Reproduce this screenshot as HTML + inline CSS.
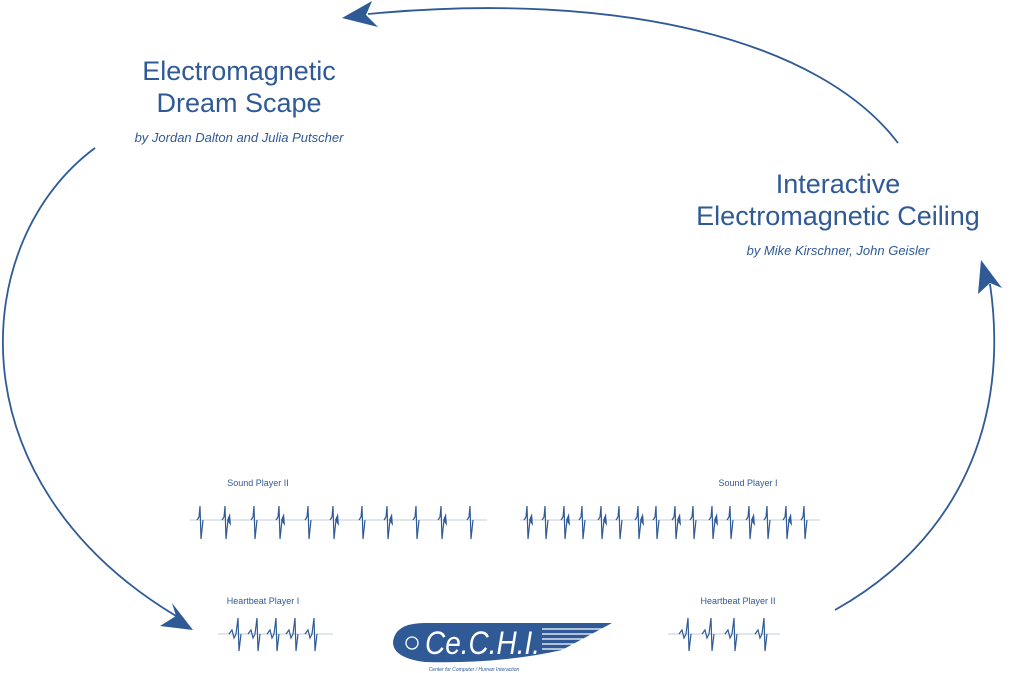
<!DOCTYPE html>
<html><head><meta charset="utf-8"><style>
body{margin:0;background:#fff;}
svg{display:block}
text{font-family:"Liberation Sans",sans-serif;fill:#2f5a96}
</style></head><body>
<svg width="1024" height="673" viewBox="0 0 1024 673" xmlns="http://www.w3.org/2000/svg">
<g fill="none" stroke="#2f5a96" stroke-width="1.8">
<path d="M898,143 C820,40 620,-10 368,14"/>
<path d="M95,148 C-30,240 -50,480 176,616"/>
<path d="M835,610 C960,540 1010,420 990,284"/>
</g>
<g fill="#2f5a96">
<polygon points="342,18 372,1 366,15 378,27"/>
<polygon points="193,630 172,603 176,616 160,626"/>
<polygon points="981,260 1002,288 990,283 978,294"/>
</g>
<text x="239" y="80" font-size="27" text-anchor="middle">Electromagnetic</text>
<text x="239" y="112" font-size="27" text-anchor="middle">Dream Scape</text>
<text x="239" y="142" font-size="13" font-style="italic" text-anchor="middle">by Jordan Dalton and Julia Putscher</text>
<text x="838" y="193" font-size="27" text-anchor="middle">Interactive</text>
<text x="838" y="225" font-size="27" text-anchor="middle">Electromagnetic Ceiling</text>
<text x="838" y="255" font-size="13" font-style="italic" text-anchor="middle">by Mike Kirschner, John Geisler</text>
<text x="258" y="486" font-size="9" text-anchor="middle">Sound Player II</text>
<text x="748" y="486" font-size="9" text-anchor="middle">Sound Player I</text>
<text x="263" y="604" font-size="9" text-anchor="middle">Heartbeat Player I</text>
<text x="738" y="604" font-size="9" text-anchor="middle">Heartbeat Player II</text>
<g id="waves" stroke="#2f5a96" stroke-width="1.2" fill="#2f5a96"></g>
<path d="M425,623 L612,623 L562,650 Q500,664 425,662 Q393,658 393,642 Q395,623 425,623 Z" fill="#2f5a96"/>
<g stroke="#fff" stroke-width="1.2"><line x1="542" y1="629" x2="606" y2="629"/><line x1="542" y1="634" x2="596" y2="634"/><line x1="542" y1="639" x2="588" y2="639"/><line x1="542" y1="644" x2="578" y2="644"/><line x1="542" y1="649" x2="566" y2="649"/></g>
<text x="425" y="654" font-size="32" font-style="italic" textLength="115" lengthAdjust="spacingAndGlyphs" style="fill:#fff">Ce.C.H.I.</text>
<circle cx="412" cy="643" r="6" fill="none" stroke="#fff" stroke-width="1.3"/>
<text x="474" y="671" font-size="5" font-style="italic" text-anchor="middle">Center for Computer / Human Interaction</text>
</svg>
<script>
var g=document.getElementById('waves'),s='';
function line(x1,y,x2){s+='<line x1="'+x1+'" y1="'+y+'" x2="'+x2+'" y2="'+y+'" stroke-width="0.6" opacity="0.6"/>';}
function spike(x,y){s+='<path d="M'+(x-3)+','+y+' L'+(x-1)+','+(y-3)+' L'+x+','+(y-14)+' L'+(x+1)+','+(y+19)+' L'+(x+3)+','+y+'" fill="none"/>';}
function cplx(x,y){spike(x,y);s+='<polygon points="'+(x+2)+','+y+' '+(x+5)+','+(y-7)+' '+(x+6)+','+(y+6)+'" stroke="none"/>';}
line(190,520,487);for(var i=0;i<6;i++){spike(200+i*54,520);if(i<5)cplx(225+i*54,520);}
line(520,520,820);for(i=0;i<8;i++){cplx(527+i*37,520);spike(545+i*37,520);}
function hb(x,y){s+='<path d="M'+(x-9)+','+y+' L'+(x-6)+','+(y-4)+' L'+(x-4)+','+(y+4)+' L'+(x-2)+','+y+' L'+x+','+(y-16)+' L'+(x+1)+','+(y+17)+' L'+(x+3)+','+y+'" fill="none"/>';}
line(218,634,333);[238,257,276,295,314].forEach(function(x){hb(x,634)});
line(668,634,780);[688,711,734,764].forEach(function(x){hb(x,634)});
g.innerHTML=s;
</script>
</body></html>
